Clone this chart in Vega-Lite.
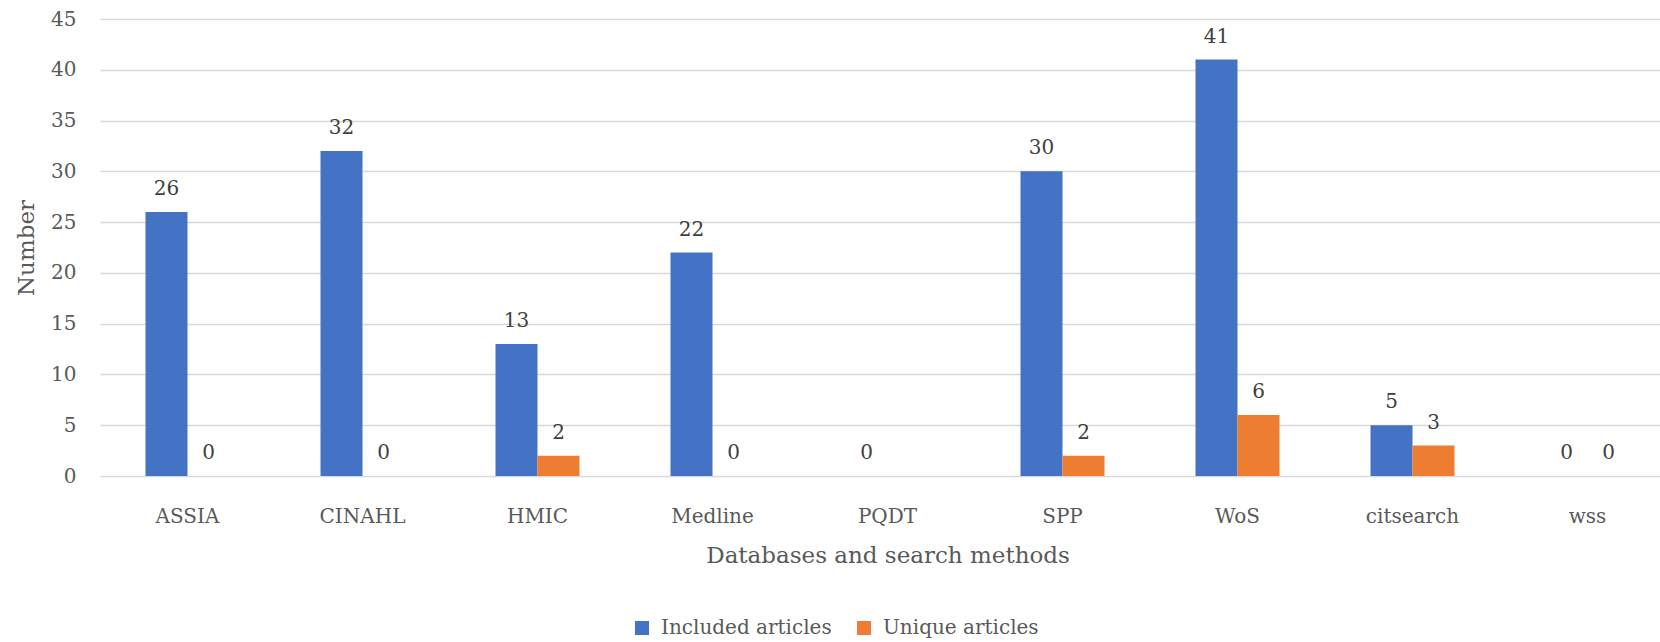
{
  "$schema": "https://vega.github.io/schema/vega-lite/v6.json",
  "width": 1560,
  "height": 457,
  "autosize": {"type": "none"},
  "padding": {"left": 100, "top": 19, "right": 0, "bottom": 166},
  "background": "white",
  "config": {
    "view": {"stroke": null},
    "font": "DejaVu Serif"
  },
  "data": {
    "values": [
      {"db": "ASSIA", "series": "Included articles", "value": 26},
      {"db": "ASSIA", "series": "Unique articles", "value": 0},
      {"db": "CINAHL", "series": "Included articles", "value": 32},
      {"db": "CINAHL", "series": "Unique articles", "value": 0},
      {"db": "HMIC", "series": "Included articles", "value": 13},
      {"db": "HMIC", "series": "Unique articles", "value": 2},
      {"db": "Medline", "series": "Included articles", "value": 22},
      {"db": "Medline", "series": "Unique articles", "value": 0},
      {"db": "PQDT", "series": "Included articles", "value": 0},
      {"db": "SPP", "series": "Included articles", "value": 30},
      {"db": "SPP", "series": "Unique articles", "value": 2},
      {"db": "WoS", "series": "Included articles", "value": 41},
      {"db": "WoS", "series": "Unique articles", "value": 6},
      {"db": "citsearch", "series": "Included articles", "value": 5},
      {"db": "citsearch", "series": "Unique articles", "value": 3},
      {"db": "wss", "series": "Included articles", "value": 0},
      {"db": "wss", "series": "Unique articles", "value": 0}
    ]
  },
  "encoding": {
    "x": {
      "field": "db",
      "type": "nominal",
      "sort": null,
      "scale": {"range": [0, 1575], "paddingInner": 0.52, "paddingOuter": 0.26},
      "axis": {
        "title": "Databases and search methods",
        "titleX": 787.5,
        "titleFontSize": 23,
        "titleFontWeight": "normal",
        "titleColor": "#595959",
        "titlePadding": 18,
        "labelFontSize": 20,
        "labelColor": "#595959",
        "labelPadding": 30,
        "labelAngle": 0,
        "domain": false,
        "ticks": false
      }
    },
    "xOffset": {
      "field": "series",
      "type": "nominal",
      "sort": ["Included articles", "Unique articles"],
      "scale": {"paddingInner": 0, "paddingOuter": 0}
    },
    "y": {
      "field": "value",
      "type": "quantitative",
      "scale": {"domain": [0, 45], "nice": false},
      "axis": {
        "title": "Number",
        "titleFontSize": 23,
        "titleFontWeight": "normal",
        "titleColor": "#595959",
        "titlePadding": 12,
        "values": [0, 5, 10, 15, 20, 25, 30, 35, 40, 45],
        "labelFontSize": 20,
        "labelColor": "#595959",
        "labelPadding": 24,
        "grid": true,
        "gridColor": "#d9d9d9",
        "gridWidth": 1.3,
        "domain": false,
        "ticks": false
      }
    }
  },
  "layer": [
    {
      "mark": {"type": "bar"},
      "encoding": {
        "color": {
          "field": "series",
          "type": "nominal",
          "scale": {"domain": ["Included articles", "Unique articles"], "range": ["#4472C4", "#ED7D31"]},
          "legend": {
            "title": null,
            "orient": "none",
            "direction": "horizontal",
            "legendX": 532,
            "legendY": 599,
            "symbolType": "square",
            "symbolSize": 196,
            "symbolStrokeWidth": 0,
            "labelFontSize": 20,
            "labelColor": "#595959",
            "labelOffset": 9,
            "labelLimit": 0,
            "columnPadding": 22,
            "padding": 0
          }
        }
      }
    },
    {
      "mark": {"type": "text", "baseline": "bottom", "dy": -13, "fontSize": 20, "color": "#404040"},
      "encoding": {
        "text": {"field": "value", "type": "quantitative"}
      }
    }
  ]
}
